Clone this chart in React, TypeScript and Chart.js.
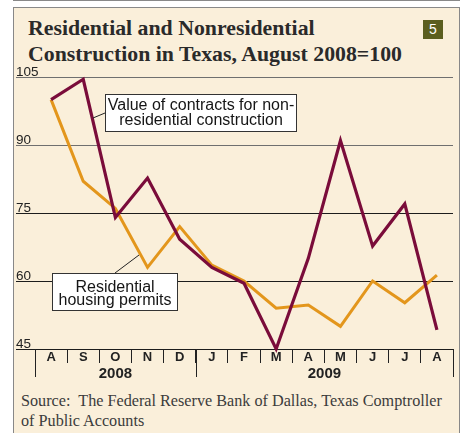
import React, { useEffect, useRef } from 'react';
import { Chart, registerables } from 'chart.js';

Chart.register(...registerables);

const months = ['A', 'S', 'O', 'N', 'D', 'J', 'F', 'M', 'A', 'M', 'J', 'J', 'A'];
const nonresidentialContracts = [100, 104.5, 74, 82.7, 69.2, 63, 59.5, 45, 65, 91, 67.7, 77, 49.2];
const residentialPermits = [100, 82, 76, 63, 72, 63.5, 60, 54, 54.7, 50, 60, 55.2, 61.3];
const yTicks = [45, 60, 75, 90, 105];
const yearGroups = [
  { label: '2008', from: 0, to: 5 },
  { label: '2009', from: 5, to: 13 },
];
const titleLines = ['Residential and Nonresidential', 'Construction in Texas, August 2008=100'];
const nonresLabel = ['Value of contracts for non-', 'residential construction'];
const resLabel = ['Residential', 'housing permits'];
const sourceLines = ['Source:  The Federal Reserve Bank of Dallas, Texas Comptroller', 'of Public Accounts'];

const MAROON = '#7A0C3A';
const ORANGE = '#E3961C';
const CANVAS_TOP = 60;

const overlayPlugin = {
  id: 'overlay',
  afterDraw(chart: any) {
    const ctx = chart.ctx;
    const xs = chart.scales.x;
    const ys = chart.scales.y;
    const ca = chart.chartArea;
    ctx.save();
    // y labels above grid lines
    ctx.font = '13.5px "Liberation Sans"';
    ctx.fillStyle = '#222';
    ctx.textAlign = 'left';
    ctx.textBaseline = 'alphabetic';
    ys.ticks.forEach((t: any) => {
      const py = ys.getPixelForValue(t.value);
      ctx.fillText(String(t.value), ys.left, py - 1);
    });
    // long ticks and year labels
    const edge = (i: number) => xs.getPixelForValue(i - 0.5);
    ctx.strokeStyle = '#222';
    ctx.lineWidth = 1;
    const longIdx = new Set<number>();
    yearGroups.forEach(g => { longIdx.add(g.from); longIdx.add(g.to); });
    longIdx.forEach(i => {
      const px = Math.round(edge(i)) + 0.5;
      ctx.beginPath();
      ctx.moveTo(px, ca.bottom);
      ctx.lineTo(px, ca.bottom + 28);
      ctx.stroke();
    });
    ctx.font = '600 15px "Liberation Sans"';
    ctx.textAlign = 'center';
    ctx.textBaseline = 'middle';
    yearGroups.forEach(g => {
      ctx.fillText(g.label, (edge(g.from) + edge(g.to)) / 2, ca.bottom + 25);
    });

    // annotation boxes
    const drawBox = (x0: number, y0: number, x1: number, y1: number, lines: string[], baselines: number[], leader: number[]) => {
      ctx.strokeStyle = '#222';
      ctx.lineWidth = 1;
      ctx.beginPath();
      ctx.moveTo(leader[0], leader[1] - CANVAS_TOP);
      ctx.lineTo(leader[2], leader[3] - CANVAS_TOP);
      ctx.stroke();
      ctx.fillStyle = '#fff';
      ctx.fillRect(x0, y0 - CANVAS_TOP, x1 - x0, y1 - y0);
      ctx.strokeStyle = '#333';
      ctx.strokeRect(x0 + 0.5, y0 - CANVAS_TOP + 0.5, x1 - x0 - 1, y1 - y0 - 1);
      ctx.fillStyle = '#151515';
      ctx.font = '16px "Liberation Sans"';
      ctx.textAlign = 'center';
      ctx.textBaseline = 'alphabetic';
      lines.forEach((l, i) => ctx.fillText(l, (x0 + x1) / 2, baselines[i] - CANVAS_TOP));
    };
    drawBox(105, 94, 297, 132, nonresLabel, [109.5, 125], [93, 118, 105, 113]);
    drawBox(52, 273, 178, 311, resLabel, [291.5, 305], [115, 273, 139, 255]);
    ctx.restore();
  },
};

function ChartView() {
  const ref = useRef<HTMLCanvasElement | null>(null);
  useEffect(() => {
    if (!ref.current) return;
    const chart = new Chart(ref.current, {
      type: 'line',
      data: {
        labels: months,
        datasets: [
          {
            label: 'Value of contracts for nonresidential construction',
            data: nonresidentialContracts,
            borderColor: MAROON,
            backgroundColor: MAROON,
            borderWidth: 3.2,
            pointRadius: 0,
            tension: 0,
            clip: false as any,
            borderJoinStyle: 'miter',
            borderCapStyle: 'butt',
          },
          {
            label: 'Residential housing permits',
            data: residentialPermits,
            borderColor: ORANGE,
            backgroundColor: ORANGE,
            borderWidth: 3,
            pointRadius: 0,
            tension: 0,
            clip: false as any,
            borderJoinStyle: 'miter',
            borderCapStyle: 'butt',
          },
        ],
      },
      options: {
        responsive: false,
        animation: false,
        layout: { padding: { left: 16, right: 13, top: 17, bottom: 11 } },
        plugins: { legend: { display: false }, tooltip: { enabled: false } },
        scales: {
          x: {
            type: 'category',
            offset: true,
            grid: {
              display: true,
              drawOnChartArea: false,
              drawTicks: true,
              tickLength: 14,
              offset: true,
              color: '#222',
              lineWidth: 1,
            },
            border: { display: false },
            ticks: {
              padding: -13,
              autoSkip: false,
              maxRotation: 0,
              color: '#222',
              font: { family: 'Liberation Sans', size: 13, weight: 'bold' },
            },
            afterFit: (s: any) => { s.height = 30; },
          },
          y: {
            min: 45,
            max: 105,
            afterBuildTicks: (s: any) => { s.ticks = yTicks.map(v => ({ value: v })); },
            grid: {
              drawTicks: true,
              tickLength: 19,
              lineWidth: 1,
              color: (c: any) => (c.tick && c.tick.value >= 90 ? '#6f6f6f' : '#1c1c1c'),
            },
            border: { display: false },
            ticks: { display: false },
            afterFit: (s: any) => { s.width = 19; },
          },
        },
      },
      plugins: [overlayPlugin],
    } as any);
    return () => chart.destroy();
  }, []);
  return (
    <canvas
      ref={ref}
      width={466}
      height={330}
      style={{ position: 'absolute', left: 0, top: CANVAS_TOP, width: 466, height: 330 }}
    />
  );
}

export default function App() {
  return (
    <div style={{ position: 'fixed', left: 0, top: 0, width: 466, height: 433, background: '#fff', overflow: 'hidden' }}>
      <div style={{ position: 'absolute', left: 13, top: 0, width: 447, height: 1, background: '#888' }} />
      <div
        style={{
          position: 'absolute', left: 13, top: 7, width: 445, height: 440,
          background: '#FAEFDA', borderLeft: '1px solid #888', borderRight: '1px solid #888', borderTop: '1px solid #888',
        }}
      />
      <div
        style={{
          position: 'absolute', left: 28, top: 15, fontFamily: '"Liberation Serif", serif', fontWeight: 'bold',
          fontSize: 21.8, lineHeight: '26px', color: '#2a2a2a', whiteSpace: 'pre',
        }}
      >
        {titleLines.map((l, i) => <div key={i}>{l}</div>)}
      </div>
      <div
        style={{
          position: 'absolute', left: 423, top: 20, width: 20, height: 19, background: '#5B5E1F', color: '#fff',
          fontFamily: '"Liberation Sans", sans-serif', fontSize: 14, lineHeight: '19px', textAlign: 'center',
        }}
      >
        5
      </div>
      <ChartView />
      <div
        style={{
          position: 'absolute', left: 21, top: 391, fontFamily: '"Liberation Serif", serif', fontSize: 16.2,
          lineHeight: '20px', color: '#3c3c3c', whiteSpace: 'pre',
        }}
      >
        {sourceLines.map((l, i) => <div key={i}>{l}</div>)}
      </div>
    </div>
  );
}
